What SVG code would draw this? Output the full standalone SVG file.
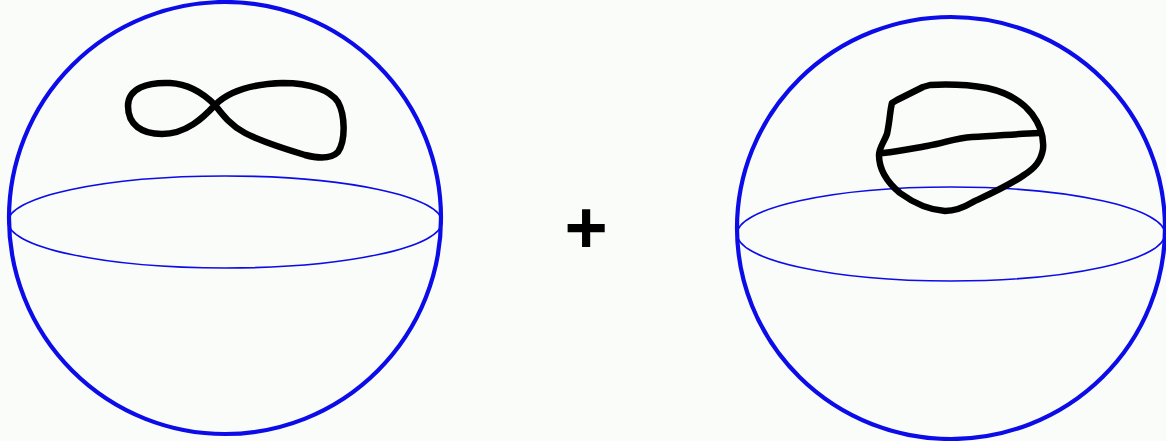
<svg xmlns="http://www.w3.org/2000/svg" width="1166" height="441" viewBox="0 0 1166 441">
<style>
.sphere{fill:none;stroke:#0c0ce8;stroke-width:4.2}
.eq{fill:none;stroke:#0c0ce8;stroke-width:1.6}
.curve{fill:none;stroke:#000;stroke-width:6.5;stroke-linejoin:round;stroke-linecap:round}
.op{font-family:"Liberation Sans",Arial,sans-serif;font-size:74px;font-weight:bold;fill:#000}
</style>
<rect width="1166" height="441" fill="#f9fcf9"/>
<g id="left-sphere">
<circle class="sphere" cx="225" cy="218" r="216"/>
<ellipse class="eq" cx="225" cy="222" rx="217" ry="46"/>
<path class="curve" d="M215,105 C205,95 190,84 170,83 C148,82 128,88 128,106 C128,125 142,134 162,134 C186,134 203,118 215,105 C228,92 250,84 283,83 C310,83 330,90 338,102 C345,115 346,140 338,152 C332,158 320,159 305,155 C285,149 262,142 245,133 C230,125 222,114 215,105 Z"/>
</g>
<g id="plus">
<text class="op" x="586" y="253" text-anchor="middle">+</text>
</g>
<g id="right-sphere">
<ellipse class="sphere" cx="951" cy="228" rx="214" ry="211"/>
<ellipse class="eq" cx="951" cy="234" rx="214" ry="47"/>
<path class="curve" d="M892,103 L897,100 L923,87 L930,85 C950,84 970,85 987,88 C1005,92 1022,101 1032,114 C1041,126 1044,138 1043,149 C1041,161 1035,168 1024,175 C1010,185 990,194 973,202 C963,208 955,211 945,211 C930,210 915,204 900,193 C888,183 879,170 879,155 C879,148 884,142 887,134 C890,120 890,110 892,103 Z"/>
<path class="curve" d="M883,153 C900,151 915,148 927,146 C945,143 955,138 972,137 C995,136 1015,134 1039,133"/>
</g>
</svg>
